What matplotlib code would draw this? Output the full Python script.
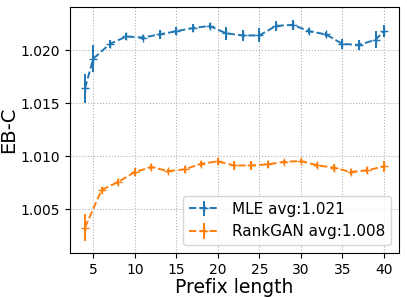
import matplotlib
matplotlib.use("Agg")
import matplotlib.pyplot as plt

# blue series (MLE) - prefix lengths and EB-C values
mle_x = [4, 5, 7, 9, 11, 13, 15, 17, 19, 21, 23, 25, 27, 29, 31, 33, 35, 37, 39, 40]
mle_y = [1.0164, 1.0192, 1.0206, 1.0213, 1.0212, 1.0215, 1.0218, 1.0221, 1.0223, 1.0216,
         1.0214, 1.0214, 1.0223, 1.0224, 1.0218, 1.0215, 1.0206, 1.0205, 1.0210, 1.0218]
mle_err = [0.0014, 0.0013, 0.00035, 0.0003, 0.00025, 0.0004, 0.0004, 0.0004, 0.0003, 0.0006,
           0.00055, 0.00066, 0.0005, 0.0005, 0.00027, 0.00024, 0.0005, 0.0005, 0.0008, 0.00055]

# orange series (RankGAN)
rank_x = [4, 6, 8, 10, 12, 14, 16, 18, 20, 22, 24, 26, 28, 30, 32, 34, 36, 38, 40]
rank_y = [1.00325, 1.0068, 1.00756, 1.0085, 1.00897, 1.00859, 1.00875, 1.00928, 1.0095, 1.00912,
          1.00912, 1.00922, 1.00947, 1.00953, 1.00912, 1.00891, 1.0085, 1.00866, 1.00903]
rank_err = [0.0013, 0.0003, 0.0003, 0.00035, 0.0003, 0.0002, 0.0003, 0.0003, 0.0003, 0.0004,
            0.0004, 0.0003, 0.0002, 0.0002, 0.0002, 0.00035, 0.0003, 0.0003, 0.0005]

labels = ["MLE avg:1.021", "RankGAN avg:1.008"]

fig = plt.figure(figsize=(4.07, 2.98), dpi=100)
ax = fig.add_axes([0.172, 0.151, 0.808, 0.826])

ax.errorbar(mle_x, mle_y, yerr=mle_err, fmt="--+", color="#1f77b4",
            linewidth=1.4, markersize=6, label=labels[0])
ax.errorbar(rank_x, rank_y, yerr=rank_err, fmt="--+", color="#ff7f0e",
            linewidth=1.4, markersize=6, label=labels[1])

ax.set_ylim(1.00085, 1.0241)
ax.set_xlim(2.2, 41.8)
ax.set_yticks([1.005, 1.010, 1.015, 1.020])
ax.set_xticks([5, 10, 15, 20, 25, 30, 35, 40])
ax.tick_params(labelsize=10)

ax.set_xlabel("Prefix length", fontsize=13.5, labelpad=1)
ax.set_ylabel("EB-C", fontsize=14, labelpad=2)
ax.grid(True, ls=":", color="#b0b0b0")
ax.legend(fontsize=11, loc="lower right")

fig.savefig("out.png", dpi=100)
